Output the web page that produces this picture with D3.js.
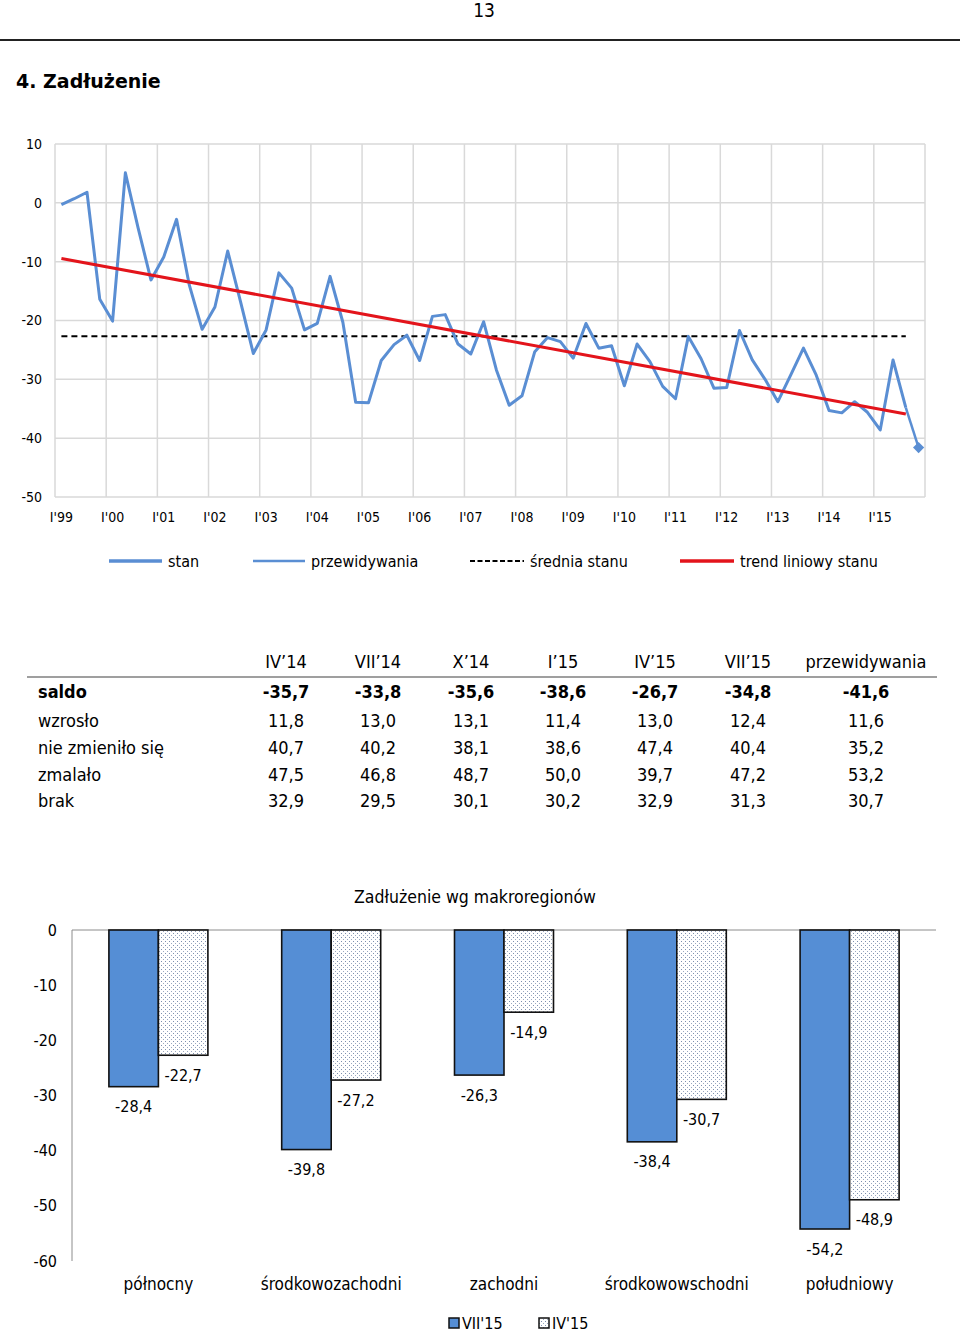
<!DOCTYPE html>
<html><head><meta charset="utf-8">
<script src="https://cdn.jsdelivr.net/npm/d3@7"></script>
<style>
body{margin:0;background:#fff;}
svg{display:block;}
text{font-family:"DejaVu Sans Condensed","DejaVu Sans",sans-serif;font-stretch:condensed;fill:#000;}
</style></head><body>
<svg id="c" width="960" height="1332"></svg>
<script>
// ---------- DATA ----------
const yearLabels = ["I'99","I'00","I'01","I'02","I'03","I'04","I'05","I'06","I'07","I'08","I'09","I'10","I'11","I'12","I'13","I'14","I'15"];
// quarterly "stan" balance, I'99 ... VII'15
const stan = [
  -0.3, 0.7, 1.8, -16.4,
  -20.1, 5.1, -4.3, -13.1,
  -9.2, -2.8, -14.0, -21.5,
  -17.7, -8.2, -16.8, -25.6,
  -21.6, -11.9, -14.5, -21.6,
  -20.5, -12.5, -20.3, -33.9,
  -34.0, -26.8, -24.1, -22.5,
  -26.8, -19.3, -19.0, -24.0,
  -25.7, -20.2, -28.4, -34.4,
  -32.8, -25.3, -22.9, -23.6,
  -26.4, -20.5, -24.7, -24.3,
  -31.1, -24.0, -27.0, -31.2,
  -33.3, -22.7, -26.5, -31.5,
  -31.4, -21.7, -26.7, -30.0,
  -33.8, -29.3, -24.7, -29.3,
  -35.3, -35.7, -33.8, -35.6,
  -38.6, -26.7, -34.8
];
const forecast = -41.6;
const lineYTicks = [10, 0, -10, -20, -30, -40, -50];
const lineLegend = ["stan", "przewidywania", "średnia stanu", "trend liniowy stanu"];

const tableCols = ["IV’14","VII’14","X’14","I’15","IV’15","VII’15","przewidywania"];
const tableRowLabels = ["saldo","wzrosło","nie zmieniło się","zmalało","brak"];
const saldo = [-35.7,-33.8,-35.6,-38.6,-26.7,-34.8,-41.6];
const wzroslo = [11.8,13.0,13.1,11.4,13.0,12.4,11.6];
const nieZmienilo = [40.7,40.2,38.1,38.6,47.4,40.4,35.2];
const zmalalo = [47.5,46.8,48.7,50.0,39.7,47.2,53.2];
const brak = [32.9,29.5,30.1,30.2,32.9,31.3,30.7];

const barTitle = "Zadłużenie wg makroregionów";
const regions = ["północny","środkowozachodni","zachodni","środkowowschodni","południowy"];
const vii15 = [-28.4,-39.8,-26.3,-38.4,-54.2];
const iv15 = [-22.7,-27.2,-14.9,-30.7,-48.9];
const barYTicks = [0,-10,-20,-30,-40,-50,-60];
const barSeries = ["VII'15","IV'15"];

// ---------- SETUP ----------
const svg = d3.select("#c");
const loc = d3.formatLocale({decimal:",", thousands:" ", grouping:[3], currency:["",""], minus:"-"});
const f1 = loc.format(".1f");
const BLUE = "#5A8ED3";
const BARBLUE = "#558ED5";
const GRID = "#D9D9D9";

// page header
svg.append("text").attr("x",484).attr("y",17).attr("text-anchor","middle").style("font-size","19px").text("13");
svg.append("line").attr("x1",0).attr("x2",960).attr("y1",40).attr("y2",40).attr("stroke","#222").attr("stroke-width",2);
svg.append("text").attr("x",16).attr("y",88).style("font-family","'DejaVu Sans',sans-serif").style("font-stretch","normal")
  .style("font-weight","bold").style("font-size","19px").text("4. Zadłużenie");

// ---------- LINE CHART ----------
const nQ = yearLabels.length * 4;
const x = d3.scaleLinear().domain([0, nQ]).range([55, 925]);
const y = d3.scaleLinear().domain([-50, 10]).range([497, 144]);
const g = svg.append("g");

// grid
g.selectAll(".hg").data(lineYTicks).join("line")
  .attr("x1", x(0)).attr("x2", x(nQ)).attr("y1", d=>y(d)).attr("y2", d=>y(d))
  .attr("stroke", GRID).attr("stroke-width", 1.5);
g.selectAll(".vg").data(d3.range(0, yearLabels.length + 1)).join("line")
  .attr("x1", d=>x(d*4)).attr("x2", d=>x(d*4)).attr("y1", y(10)).attr("y2", y(-50))
  .attr("stroke", GRID).attr("stroke-width", 1.5);

// y tick labels
g.selectAll(".yl").data(lineYTicks).join("text")
  .attr("x", 42).attr("y", d=>y(d)).attr("dy","0.35em").attr("text-anchor","end")
  .style("font-size","14px").text(d=>d);
// x labels
g.selectAll(".xl").data(yearLabels).join("text")
  .attr("x", (d,i)=>x(i*4+0.5)).attr("y", 517).attr("dy","0.35em").attr("text-anchor","middle")
  .style("font-size","14px").text(d=>d);

// mean
const mean = d3.mean(stan);
g.append("line").attr("x1", x(0.5)).attr("x2", x(stan.length-0.5))
  .attr("y1", y(mean)).attr("y2", y(mean))
  .attr("stroke","#000").attr("stroke-width",2).attr("stroke-dasharray","6,4");

// trend (least squares)
const xs = stan.map((d,i)=>i);
const mx = d3.mean(xs), my = mean;
const slope = d3.sum(xs, (xi,i)=>(xi-mx)*(stan[i]-my)) / d3.sum(xs, xi=>(xi-mx)*(xi-mx));
const icpt = my - slope*mx;

// stan line
g.append("path").datum(stan)
  .attr("d", d3.line().x((d,i)=>x(i+0.5)).y(d=>y(d)))
  .attr("fill","none").attr("stroke",BLUE).attr("stroke-width",3).attr("stroke-linejoin","round");
// forecast segment
const last = stan.length - 1;
g.append("path").datum([[last, stan[last]],[last+1, forecast]])
  .attr("d", d3.line().x(d=>x(d[0]+0.5)).y(d=>y(d[1])))
  .attr("fill","none").attr("stroke",BLUE).attr("stroke-width",2.5);
g.append("path").attr("d", d3.symbol(d3.symbolSquare, 62)())
  .attr("transform", `translate(${x(last+1.5)},${y(forecast)}) rotate(45)`).attr("fill",BLUE);

// trend line drawn on top
g.append("line").attr("x1", x(0.5)).attr("x2", x(last+0.5))
  .attr("y1", y(icpt)).attr("y2", y(icpt + slope*last))
  .attr("stroke","#E3141B").attr("stroke-width",3);

// legend
const lg = svg.append("g");
const legY = 561;
const legDefs = [
  {x1:109, x2:162, tx:168, stroke:BLUE, w:3.5, dash:null},
  {x1:253, x2:305, tx:311, stroke:BLUE, w:2.5, dash:null},
  {x1:470, x2:524, tx:530, stroke:"#000", w:2, dash:"5,2.5"},
  {x1:680, x2:734, tx:740, stroke:"#E3141B", w:3.5, dash:null}
];
lineLegend.forEach((t,i)=>{
  const d = legDefs[i];
  lg.append("line").attr("x1",d.x1).attr("x2",d.x2).attr("y1",legY).attr("y2",legY)
    .attr("stroke",d.stroke).attr("stroke-width",d.w).attr("stroke-dasharray",d.dash);
  lg.append("text").attr("x",d.tx).attr("y",legY).attr("dy","0.35em").style("font-size","16px").text(t);
});

// ---------- TABLE ----------
const tg = svg.append("g");
const colX = [286, 378, 471, 563, 655, 748, 866];
const rowsData = [saldo, wzroslo, nieZmienilo, zmalalo, brak];
const rowY = [692, 721, 748, 775, 801];
tableCols.forEach((c,i)=>{
  tg.append("text").attr("x",colX[i]).attr("y",662).attr("dy","0.35em").attr("text-anchor","middle")
    .style("font-size","18px").text(c);
});
tg.append("line").attr("x1",27).attr("x2",937).attr("y1",677).attr("y2",677).attr("stroke","#7F7F7F").attr("stroke-width",1.5);
tableRowLabels.forEach((lbl,r)=>{
  const bold = r===0;
  tg.append("text").attr("x",38).attr("y",rowY[r]).attr("dy","0.35em")
    .style("font-size","18px").style("font-weight", bold?"bold":"normal").text(lbl);
  rowsData[r].forEach((v,i)=>{
    tg.append("text").attr("x",colX[i]).attr("y",rowY[r]).attr("dy","0.35em").attr("text-anchor","middle")
      .style("font-size","18px").style("font-weight", bold?"bold":"normal").text(f1(v));
  });
});

// ---------- BAR CHART ----------
const defs = svg.append("defs");
const pat = defs.append("pattern").attr("id","dots").attr("patternUnits","userSpaceOnUse").attr("width",4).attr("height",4);
pat.append("rect").attr("width",4).attr("height",4).attr("fill","#fff");
pat.append("rect").attr("x",1).attr("y",1).attr("width",1).attr("height",1).attr("fill","#7D8FAE");
pat.append("rect").attr("x",3).attr("y",3).attr("width",1).attr("height",1).attr("fill","#9AA8C0");

const bg = svg.append("g");
const by = d3.scaleLinear().domain([-60, 0]).range([1261, 930]);
const bx0 = d3.scaleBand().domain(regions).range([72, 936]);
const groupW = 99;
const bx1 = d3.scaleBand().domain(barSeries).range([bx0.bandwidth()/2 - groupW/2, bx0.bandwidth()/2 + groupW/2]);

bg.append("text").attr("x",475).attr("y",897).attr("dy","0.35em").attr("text-anchor","middle")
  .style("font-size","17.5px").text(barTitle);

bg.selectAll(".byl").data(barYTicks).join("text")
  .attr("x",57).attr("y",d=>by(d)).attr("dy","0.35em").attr("text-anchor","end")
  .style("font-size","16px").text(d=>d);

// axes lines
bg.append("line").attr("x1",72).attr("x2",72).attr("y1",by(0)).attr("y2",by(-60)).attr("stroke","#8C8C8C").attr("stroke-width",1);
bg.append("line").attr("x1",72).attr("x2",936).attr("y1",by(0)).attr("y2",by(0)).attr("stroke","#8C8C8C").attr("stroke-width",1);

const seriesVals = [vii15, iv15];
const fills = [BARBLUE, "url(#dots)"];
seriesVals.forEach((vals, s)=>{
  regions.forEach((r,i)=>{
    const bx = bx0(r) + bx1(barSeries[s]);
    const v = vals[i];
    bg.append("rect").attr("x",bx).attr("y",by(0)).attr("width",bx1.bandwidth()).attr("height",by(v)-by(0))
      .attr("fill",fills[s]).attr("stroke","#111").attr("stroke-width",1.6);
    bg.append("text").attr("x",bx + bx1.bandwidth()/2).attr("y",by(v)+20).attr("dy","0.35em").attr("text-anchor","middle")
      .style("font-size","16px").text(f1(v));
  });
});

bg.selectAll(".cl").data(regions).join("text")
  .attr("x",d=>bx0(d)+bx0.bandwidth()/2).attr("y",1284).attr("dy","0.35em").attr("text-anchor","middle")
  .style("font-size","17px").text(d=>d);

// legend
const blx = [449, 539];
barSeries.forEach((s,i)=>{
  bg.append("rect").attr("x",blx[i]).attr("y",1318).attr("width",10).attr("height",10)
    .attr("fill", i===0 ? BARBLUE : "url(#dots)").attr("stroke","#111").attr("stroke-width",1.5);
  bg.append("text").attr("x",blx[i]+13).attr("y",1323).attr("dy","0.35em").style("font-size","16px").text(s);
});
</script>
</body></html>
